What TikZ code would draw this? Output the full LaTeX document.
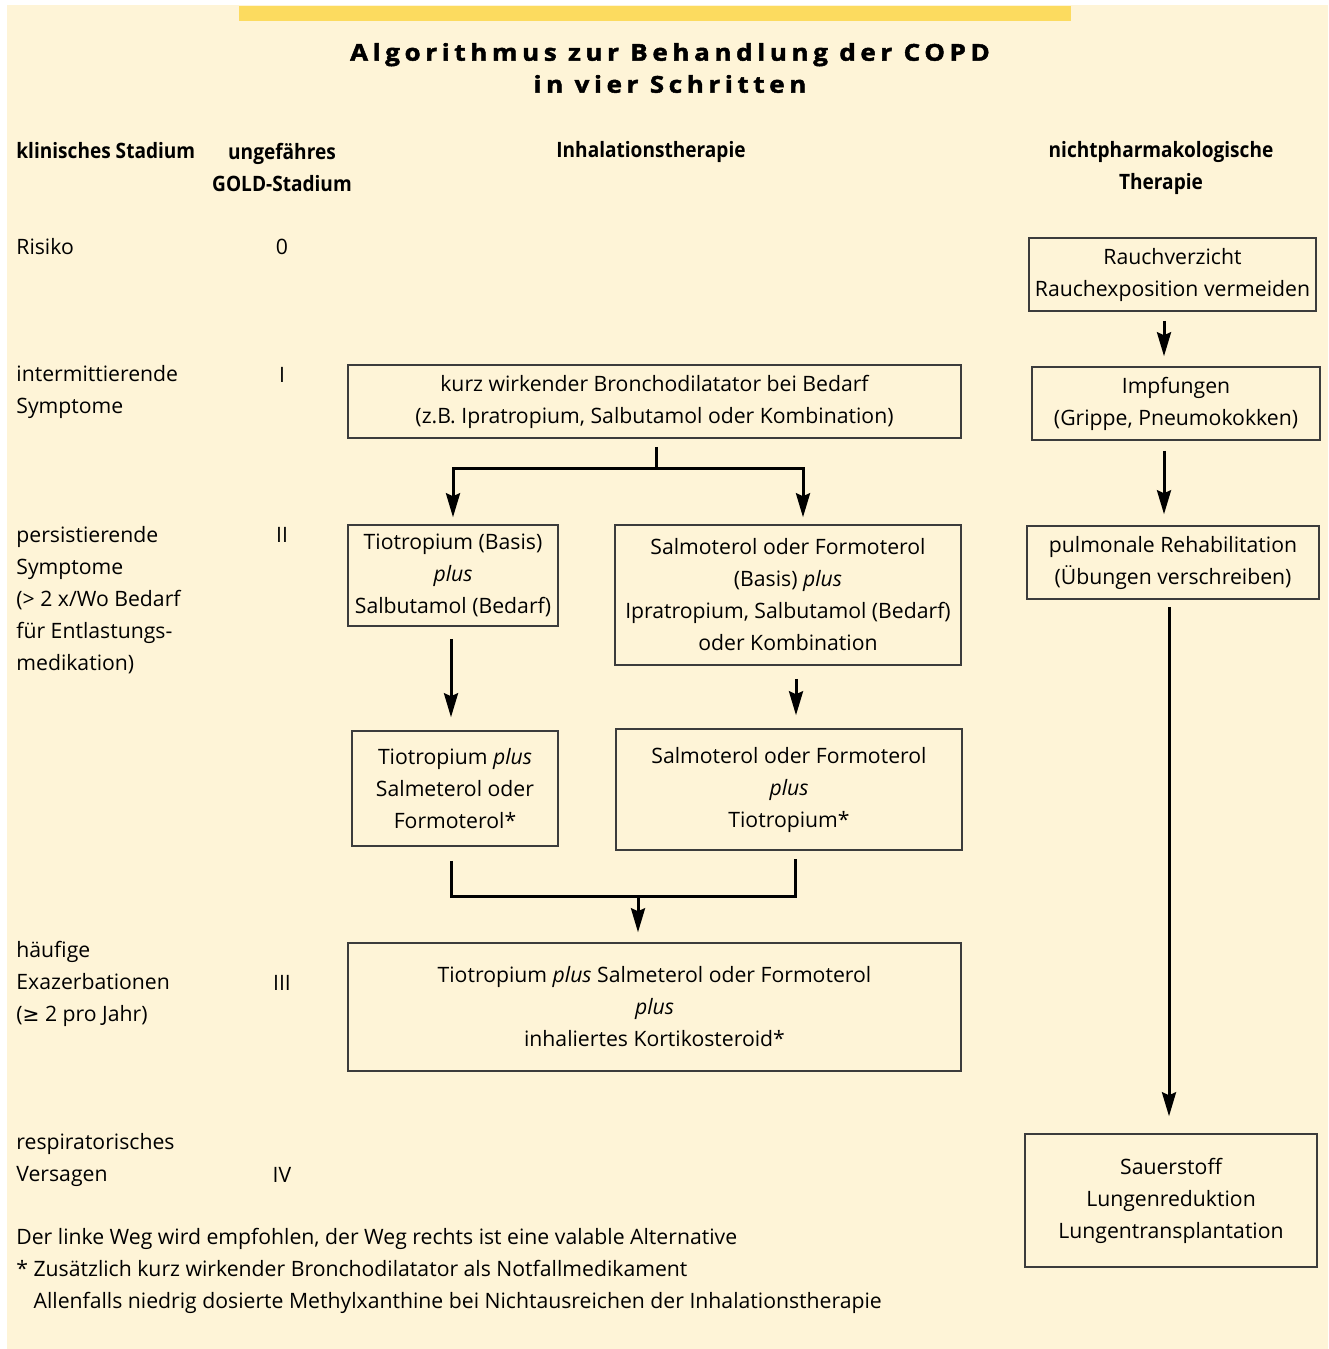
\documentclass[tikz,border=0pt]{standalone}
\usepackage{fontspec}
\setmainfont{Open Sans}[BoldFeatures={FakeStretch=0.9}]
\newfontfamily\titlefont{Open Sans}[LetterSpace=20, FakeStretch=1.12, FakeBold=2]
\newfontfamily\symfont{DejaVu Sans}[Scale=0.95]
\usetikzlibrary{arrows.meta,calc}
\newlength{\pxu}\setlength{\pxu}{0.5pt}
\definecolor{bgc}{HTML}{FEF4D7}
\definecolor{barc}{HTML}{FCDB5F}
\definecolor{boxc}{HTML}{3C3C3C}
\tikzset{
  txt/.style={font=\fontsize{10.6}{16}\selectfont, inner sep=0pt, align=center},
  lbl/.style={txt, align=left, anchor=west},
  hdr/.style={txt, font=\fontsize{10.6}{16}\selectfont\bfseries},
  stepbox/.style={txt, draw=boxc, line width=0.75pt},
  ln/.style={line width=1.5pt, black},
  arr/.style={ln, -{Stealth[length=12pt,width=7pt,inset=1.5pt]}},
  arrs/.style={ln, {Stealth[length=12pt,width=7pt,inset=1.5pt]}-{Stealth[length=12pt,width=7pt,inset=1.5pt]}},
}
\begin{document}
\begin{tikzpicture}[x=0.5pt,y=-0.5pt]
\useasboundingbox (0,0) rectangle (1328,1349);
\fill[white] (0,0) rectangle (1328,1349);
\fill[bgc] (7,5) rectangle (1328,1349);
\fill[barc] (239,6) rectangle (1071,21);

% title
\node[txt, font=\fontsize{11.6}{16}\selectfont\titlefont\bfseries] (title) at (670,68)
  {Algorithmus zur Behandlung der COPD\\in vier Schritten};

% headers
\node[hdr, anchor=west] (h1) at (16,151) {klinisches Stadium};
\node[hdr] (h2) at (282,167) {ungefähres\\GOLD-Stadium};
\node[hdr] (h3) at (651,152) {Inhalationstherapie};
\node[hdr] (h4) at (1161,168) {nichtpharmakologische\\Therapie};

% left column
\node[lbl] (l0) at (16,247) {Risiko};
\node[lbl] (l1) at (16,392) {intermittierende\\Symptome};
\node[lbl] (l2) at (16,600) {persistierende\\Symptome\\(> 2 x/Wo Bedarf\\für Entlastungs-\\medikation)};
\node[lbl] (l3) at (16,984) {häufige\\Exazerbationen\\({\symfont ≥} 2 pro Jahr)};
\node[lbl] (l4) at (16,1160) {respiratorisches\\Versagen};

% GOLD column
\node[txt] (g0) at (282,247) {0};
\node[txt] (g1) at (282,375) {I};
\node[txt] (g2) at (282,535) {II};
\node[txt] (g3) at (282,983) {III};
\node[txt] (g4) at (282,1175) {IV};

% inhalation boxes
\node[stepbox, minimum width=613\pxu, minimum height=73\pxu] (B1) at (654.5,401.5)
  {kurz wirkender Bronchodilatator bei Bedarf\\(z.B. Ipratropium, Salbutamol oder Kombination)};
\node[stepbox, minimum width=210\pxu, minimum height=101\pxu] (B2) at (453,575.5)
  {Tiotropium (Basis)\\\textit{plus}\\Salbutamol (Bedarf)};
\node[stepbox, minimum width=346\pxu, minimum height=140\pxu] (B3) at (788,595)
  {Salmoterol oder Formoterol\\(Basis) \textit{plus}\\Ipratropium, Salbutamol (Bedarf)\\oder Kombination};
\node[stepbox, minimum width=206\pxu, minimum height=115\pxu] (B4) at (455,788.5)
  {Tiotropium \textit{plus}\\Salmeterol oder\\Formoterol*};
\node[stepbox, minimum width=346\pxu, minimum height=121\pxu] (B5) at (789,789.5)
  {Salmoterol oder Formoterol\\\textit{plus}\\Tiotropium*};
\node[stepbox, minimum width=613\pxu, minimum height=128\pxu] (B6) at (654.5,1007)
  {Tiotropium \textit{plus} Salmeterol oder Formoterol\\\textit{plus}\\inhaliertes Kortikosteroid*};

% non-pharmacological boxes
\node[stepbox, minimum width=287\pxu, minimum height=73\pxu] (R1) at (1172.5,274.5)
  {Rauchverzicht\\Rauchexposition vermeiden};
\node[stepbox, minimum width=288\pxu, minimum height=73\pxu] (R2) at (1176,403.5)
  {Impfungen\\(Grippe, Pneumokokken)};
\node[stepbox, minimum width=292\pxu, minimum height=73\pxu] (R3) at (1173,562.5)
  {pulmonale Rehabilitation\\(Übungen verschreiben)};
\node[stepbox, minimum width=292\pxu, minimum height=133\pxu] (R4) at (1171,1200.5)
  {Sauerstoff\\Lungenreduktion\\Lungentransplantation};

% footnotes
\node[lbl] (fn) at (16,1271)
  {Der linke Weg wird empfohlen, der Weg rechts ist eine valable Alternative\\
   * Zusätzlich kurz wirkender Bronchodilatator als Notfallmedikament\\
   \phantom{* }Allenfalls niedrig dosierte Methylxanthine bei Nichtausreichen der Inhalationstherapie};

% connectors: inhalation
\coordinate (J1) at (656,468);
\draw[ln] ($(B1.south)+(1.5,8)$) -- (J1);
\draw[arrs] ($(B2.north)+(0,-7)$) |- (J1) -| ($(B3.north)+(15,-7)$);
\draw[arr] ($(B2.south)+(-2,12)$) -- ($(B2.south |- B4.north)+(-2,-13)$);
\draw[arr] ($(B3.south)+(8,13)$) -- ($(B3.south |- B5.north)+(8,-13)$);
\coordinate (J2) at (638,896);
\draw[ln] ($(B4.south)+(-4,14)$) |- (J2) -| ($(B5.south)+(6,8)$);
\draw[arr] (J2) -- ($(J2 |- B6.north)+(0,-10)$);

% connectors: non-pharmacological
\draw[arr] ($(R1.south)+(-8.5,9)$) -- ($(R1.south |- R2.north)+(-8.5,-10)$);
\draw[arr] ($(R2.south)+(-12,10)$) -- ($(R2.south |- R3.north)+(-12,-11)$);
\draw[arr] ($(R3.south)+(-4,7)$) -- ($(R3.south |- R4.north)+(-4,-17)$);
\end{tikzpicture}
\end{document}
